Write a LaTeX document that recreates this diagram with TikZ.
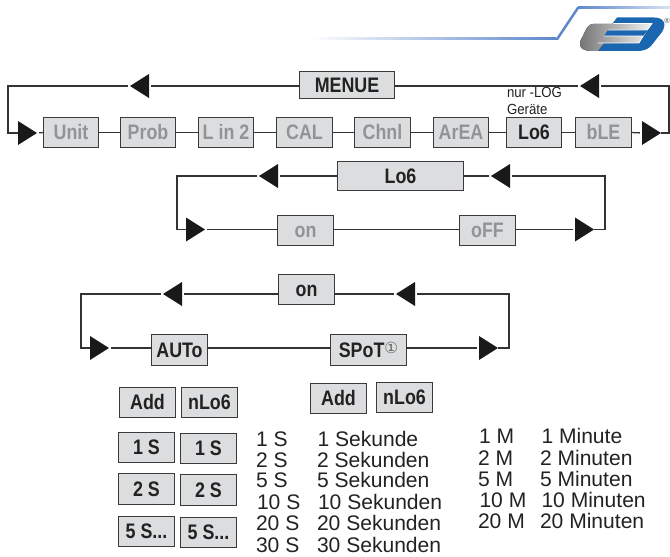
\documentclass[tikz,border=0pt]{standalone}
\usepackage{fontspec}
\setmainfont{Liberation Sans}
\newfontfamily\condbold[FakeStretch=0.85]{Liberation Sans Bold}
\newfontfamily\condreg[FakeStretch=0.9]{Liberation Sans}
\newfontfamily\symfont{DejaVu Sans}
\definecolor{boxfill}{HTML}{DCDDDE}
\definecolor{boxline}{HTML}{3A3A3A}
\definecolor{dimtext}{HTML}{929394}
\definecolor{darktext}{HTML}{222222}
\definecolor{wire}{HTML}{333333}
\definecolor{logoblue}{HTML}{1B66B1}
\definecolor{lineblue}{HTML}{5F88CC}
\tikzset{
  boxbase/.style={draw=boxline,line width=0.95pt,fill=boxfill,inner sep=0pt,outer sep=0pt,
    text height=11.2pt,text depth=0pt,font=\condbold\fontsize{15.75pt}{15.75pt}\selectfont},
  dimbox/.style={boxbase,text=dimtext},
  litbox/.style={boxbase,text=darktext},
  wirel/.style={draw=wire,line width=0.95pt},
  gapa/.style={wirel,shorten >=1.6pt},
  gapb/.style={wirel,shorten <=1.6pt},
  trifill/.style={fill=black!90},
  plain/.style={anchor=base west,inner sep=0pt,outer sep=0pt,text=darktext,font=\fontsize{15.8pt}{15.8pt}\selectfont},
  notetext/.style={anchor=base west,inner sep=0pt,outer sep=0pt,text=darktext,font=\condreg\fontsize{11pt}{11pt}\selectfont}
}
\newcommand{\bx}[7]{\node[#7,minimum width={(#4-#2)*0.75pt-0.95pt},minimum height={(#5-#3)*0.75pt-0.95pt}] (#1) at ({(#2+#4)/2},{(#3+#5)/2}) {#6};}
% triangle: name, apex x, y; coordinates name-a (apex) and name-b (base middle)
\newcommand{\triL}[3]{\coordinate (#1-a) at (#2,#3); \coordinate (#1-b) at (#2+19,#3);
  \fill[trifill] (#2,#3) -- (#2+19,#3-12) -- (#2+19,#3+12) -- cycle;}
\newcommand{\triR}[3]{\coordinate (#1-a) at (#2,#3); \coordinate (#1-b) at (#2-19,#3);
  \fill[trifill] (#2,#3) -- (#2-19,#3-12) -- (#2-19,#3+12) -- cycle;}
\begin{document}
\begin{tikzpicture}[x=0.75pt,y=-0.75pt]
\useasboundingbox (0,0) rectangle (670,556);
% header line
\fill[left color=white,right color=lineblue] (310,38) rectangle (556,40);
\fill[lineblue] (555,40) -- (577,7) -- (580,7) -- (558,40) -- cycle;
\fill[left color=lineblue,right color=lineblue!25] (578,7) rectangle (670,9);
% logo
\fill[logoblue] (617,17.5) -- (654,17.5) .. controls (664,17.5) and (667,24) .. (662,32) -- (651,46) .. controls (647,50) and (643,51) .. (636,51) -- (592,51) -- cycle;
\fill[left color=black!55,right color=black!5] (593,24) -- (652,24) -- (639,43) -- (604,43) -- (598,51) -- (592,51) .. controls (578,51) and (578,43) .. (583,36) .. controls (586,29) and (588,24) .. (593,24) -- cycle;
\fill[logoblue] (608,30) -- (648,30) -- (643,36) -- (604,36) -- cycle;
\draw[white,line width=0.5pt] (613,23.5) -- (652,23.5) -- (647,30) -- (608,30);
\draw[white,line width=0.5pt] (604,36) -- (643,36) -- (639,43) -- (598,43);
\node[inner sep=0pt,anchor=east,text=black!70,font=\fontsize{5.5pt}{5.5pt}\selectfont] (reg) at (670,21) {®};
% row 1
\bx{menue}{299}{71}{395}{99}{MENUE}{litbox}
\bx{unit}{43}{117}{99}{148}{Unit}{dimbox}
\bx{prob}{120}{117}{176}{148}{Prob}{dimbox}
\bx{lin}{198}{117}{254}{148}{L in 2}{dimbox}
\bx{cal}{276}{117}{333}{148}{CAL}{dimbox}
\bx{chnl}{354}{117}{411}{148}{Chnl}{dimbox}
\bx{area}{433}{117}{489}{148}{ArEA}{dimbox}
\bx{logb}{506}{117}{562}{148}{Lo6}{litbox}
\bx{ble}{575}{117}{632}{148}{bLE}{dimbox}
\node[notetext] (nur) at (507,98) {nur -LOG};
\node[notetext] (ger) at (507,115) {Geräte};
\triL{a1}{130}{86}
\triL{a2}{580}{86}
\triR{a3}{37}{133}
\triR{a4}{661}{133}
\coordinate (c1) at (8,133);
\coordinate (c2) at (669,133);
\draw[gapa] (menue.west |- a1-b) -- (a1-b);
\draw[gapb] (a1-a) -| (c1) -- (a3-b);
\draw[gapa] (menue.east |- a2-a) -- (a2-a);
\draw[gapb] (a2-b) -| (c2) -- (a4-a);
\draw[gapb] (a3-a) -- (unit.west);
\draw[wirel] (unit) -- (prob);
\draw[wirel] (prob) -- (lin);
\draw[wirel] (lin) -- (cal);
\draw[wirel] (cal) -- (chnl);
\draw[wirel] (chnl) -- (area);
\draw[wirel] (area) -- (logb);
\draw[wirel] (logb) -- (ble);
\draw[gapa] (ble.east) -- (a4-b);
% row 2
\bx{lob}{337}{161}{464}{191}{Lo6}{litbox}
\bx{onb}{277}{215}{334}{246}{on}{dimbox}
\bx{off}{459}{215}{516}{246}{oFF}{dimbox}
\triL{b1}{259}{176}
\triL{b2}{491}{176}
\triR{b3}{205}{229.5}
\triR{b4}{594}{229.5}
\coordinate (d1) at (177,229.5);
\coordinate (d2) at (605,229.5);
\draw[gapa] (lob.west |- b1-b) -- (b1-b);
\draw[gapb] (b1-a) -| (d1) -- (b3-b);
\draw[gapa] (lob.east |- b2-a) -- (b2-a);
\draw[gapb] (b2-b) -| (d2) -- (b4-a);
\draw[gapb] (b3-a) -- (onb.west |- b3-a);
\draw[wirel] (onb.east |- b3-a) -- (off.west |- b3-a);
\draw[gapa] (off.east |- b4-b) -- (b4-b);
% row 3
\bx{onc}{278}{274}{335}{305}{on}{litbox}
\bx{auto}{151}{334}{208}{366}{AUTo}{litbox}
\bx{spot}{330}{334}{407}{366}{SPoT\raisebox{3.2pt}{\symfont\fontsize{11.5pt}{11.5pt}\selectfont\color{black!60}①}}{litbox}
\triL{e1}{163}{294}
\triL{e2}{396}{294}
\triR{e3}{109}{348}
\triR{e4}{498}{348}
\coordinate (f1) at (81,348);
\coordinate (f2) at (509,348);
\draw[gapa] (onc.west |- e1-b) -- (e1-b);
\draw[gapb] (e1-a) -| (f1) -- (e3-b);
\draw[gapa] (onc.east |- e2-a) -- (e2-a);
\draw[gapb] (e2-b) -| (f2) -- (e4-a);
\draw[gapb] (e3-a) -- (auto.west |- e3-a);
\draw[wirel] (auto.east |- e3-a) -- (spot.west |- e3-a);
\draw[gapa] (spot.east |- e4-b) -- (e4-b);
% lower boxes
\bx{adda}{119}{387}{176}{418}{Add}{litbox}
\bx{nloa}{181}{387}{238}{418}{nLo6}{litbox}
\bx{addb}{310}{383}{367}{414}{Add}{litbox}
\bx{nlob}{376}{382}{433}{413}{nLo6}{litbox}
\bx{sa}{118}{432}{175}{463}{1 S}{litbox}
\bx{sb}{180}{433}{237}{464}{1 S}{litbox}
\bx{sc}{118}{473}{175}{505}{2 S}{litbox}
\bx{sd}{180}{474}{237}{506}{2 S}{litbox}
\bx{se}{118}{516}{175}{547}{5 S...}{litbox}
\bx{sf}{180}{517}{237}{548}{5 S...}{litbox}
% seconds
\node[plain] (t1) at (256,446) {1 S};
\node[plain] (t2) at (256,467) {2 S};
\node[plain] (t3) at (256,487.5) {5 S};
\node[plain] (t4) at (257,509) {10 S};
\node[plain] (t5) at (256,530.5) {20 S};
\node[plain] (t6) at (256,552) {30 S};
\node[plain] (u1) at (317.5,446) {1 Sekunde};
\node[plain] (u2) at (317,467) {2 Sekunden};
\node[plain] (u3) at (317,487.5) {5 Sekunden};
\node[plain] (u4) at (318,509) {10 Sekunden};
\node[plain] (u5) at (317,530.5) {20 Sekunden};
\node[plain] (u6) at (317,552) {30 Sekunden};
% minutes
\node[plain] (v1) at (479,443) {1 M};
\node[plain] (v2) at (478,465) {2 M};
\node[plain] (v3) at (478,486) {5 M};
\node[plain] (v4) at (479.5,507) {10 M};
\node[plain] (v5) at (478,528) {20 M};
\node[plain] (w1) at (541.5,443) {1 Minute};
\node[plain] (w2) at (540,465) {2 Minuten};
\node[plain] (w3) at (540,486) {5 Minuten};
\node[plain] (w4) at (541.5,507) {10 Minuten};
\node[plain] (w5) at (540,528) {20 Minuten};
\end{tikzpicture}
\end{document}
